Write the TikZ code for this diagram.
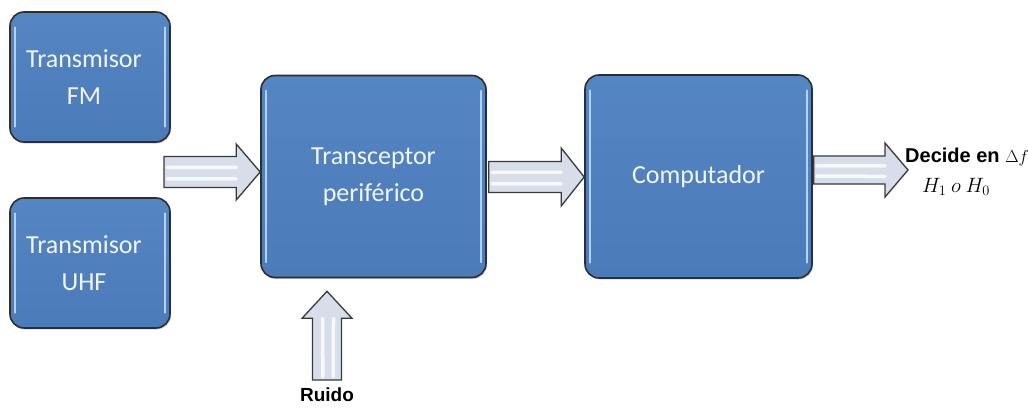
\documentclass[tikz,border=0pt]{standalone}
\usepackage{fontspec}
\setmainfont{Carlito}
\newfontfamily\labelfont{Liberation Sans}
\usetikzlibrary{calc,shadows}

\definecolor{boxtop}{HTML}{5486C3}
\definecolor{boxbot}{HTML}{4B7BB8}
\definecolor{boxedge}{HTML}{2E2E2E}
\definecolor{boxglint}{HTML}{B4D2F4}
\definecolor{boxtext}{HTML}{F2F5FA}
\definecolor{arrowfill}{HTML}{D8DDEA}
\definecolor{arrowedge}{HTML}{3A3A3A}

% block arrow from #1 to the tip #2; #3 half shaft, #4 half head, #5 head length
\newcommand\blockarrow[5]{%
  \coordinate (ba-a) at (#1);
  \coordinate (ba-b) at (#2);
  \coordinate (ba-h) at ($(ba-b)!#5!(ba-a)$);
  \draw[arrowbody]
    ($(ba-a)!#3!90:(ba-b)$) -- ($(ba-h)!#3!90:(ba-b)$) --
    ($(ba-h)!#4!90:(ba-b)$) -- (ba-b) --
    ($(ba-h)!#4!-90:(ba-b)$) -- ($(ba-h)!#3!-90:(ba-b)$) --
    ($(ba-a)!#3!-90:(ba-b)$) -- cycle;
  \draw[arrowshine] ($($(ba-a)!0.3*#3!90:(ba-b)$)!3pt!(ba-b)$) --
                    ($(ba-h)!0.3*#3!90:(ba-b)$);
  \draw[arrowshine] ($($(ba-a)!0.45*#3!-90:(ba-b)$)!3pt!(ba-b)$) --
                    ($(ba-h)!0.45*#3!-90:(ba-b)$);
}

\tikzset{
  block/.style={draw=boxedge, line width=1.6pt, rounded corners=14pt,
    top color=boxtop, bottom color=boxbot, text=boxtext,
    font=\fontsize{26}{37}\selectfont, align=center,
    drop shadow={opacity=0.35, shadow xshift=1pt, shadow yshift=-1.5pt}},
  glint/.style={draw=boxglint, line width=1.6pt, line cap=round},
  arrowbody/.style={draw=arrowedge, line width=1.3pt, fill=arrowfill, line join=miter},
  arrowshine/.style={draw=white, line width=3.5pt, opacity=0.8, line cap=round},
  sidelabel/.style={font=\labelfont\bfseries\fontsize{20}{23}\selectfont},
}

\begin{document}
\begin{tikzpicture}[x=1pt, y=-1pt]
  \useasboundingbox (0,0) rectangle (1028,407);

  \node[block, minimum width=160pt, minimum height=130pt] (fm) at (90,77)
    {Transmisor\kern12pt\\FM\kern12pt};
  \node[block, minimum width=160pt, minimum height=130pt] (uhf) at (90,263)
    {Transmisor\kern12pt\\UHF\kern12pt};
  \node[block, minimum width=225pt, minimum height=202pt] (trx) at (373.5,176.5)
    {Transceptor\\periférico};
  \node[block, minimum width=227pt, minimum height=203pt] (comp) at (698.5,176.5)
    {Computador};

  % inner highlights along the side edges
  \foreach \n in {fm,uhf,trx,comp}{
    \draw[glint] ($(\n.north west)+(6,16)$) -- ($(\n.south west)+(6,-16)$);
    \draw[glint] ($(\n.north east)+(-6,16)$) -- ($(\n.south east)+(-6,-16)$);
  }

  % free ends of the arrows
  \coordinate (src) at (164,172);
  \coordinate (out) at (908,170);
  \coordinate (noise) at (327,380);

  \blockarrow{src}{trx.west |- src}{15.5pt}{28pt}{24pt}
  \blockarrow{$(trx.east)+(2,0.5)$}{$(comp.west)+(0,0.5)$}{15.5pt}{29pt}{23pt}
  \blockarrow{$(comp.east)+(1,-6.5)$}{out}{14pt}{27pt}{23pt}
  \blockarrow{noise}{$(trx.south -| noise)+(0,13)$}{14.5pt}{25pt}{27pt}

  \node[sidelabel, anchor=west, inner sep=0pt] (dec) at (905,157)
    {Decide en {\fontsize{18}{20}\selectfont$\Delta f$}};
  \node[font=\fontsize{20.5}{23}\selectfont, inner sep=0pt] (hyp) at (956,187)
    {$H_1\ o\ H_0$};
  \node[sidelabel, font=\labelfont\bfseries\fontsize{19}{22}\selectfont,
    inner sep=0pt] (ruido) at (327,395) {Ruido};
\end{tikzpicture}
\end{document}
